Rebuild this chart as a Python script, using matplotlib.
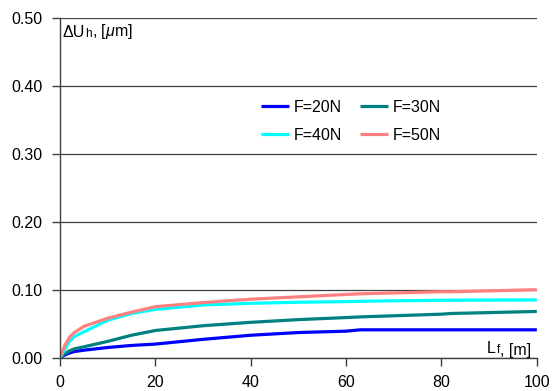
import matplotlib
matplotlib.use("Agg")
import matplotlib.pyplot as plt

plt.rcParams['font.family'] = ['Liberation Sans', 'DejaVu Sans']
plt.rcParams['mathtext.fontset'] = 'custom'
plt.rcParams['mathtext.rm'] = 'Liberation Sans'
plt.rcParams['mathtext.it'] = 'Liberation Sans:italic'

x = [0, 1, 2, 3, 5, 10, 15, 20, 30, 40, 50, 60, 63, 80, 82, 100]
f20 = [0, 0.004, 0.007, 0.009, 0.011, 0.015, 0.018, 0.020, 0.027, 0.033, 0.037, 0.039, 0.041, 0.041, 0.041, 0.041]
f30 = [0, 0.006, 0.010, 0.013, 0.016, 0.024, 0.033, 0.040, 0.047, 0.052, 0.056, 0.059, 0.060, 0.064, 0.065, 0.068]
f40 = [0, 0.012, 0.024, 0.031, 0.038, 0.055, 0.065, 0.071, 0.0775, 0.080, 0.0815, 0.0825, 0.083, 0.0845, 0.0845, 0.085]
f50 = [0, 0.018, 0.030, 0.037, 0.046, 0.058, 0.067, 0.075, 0.081, 0.086, 0.0895, 0.093, 0.094, 0.097, 0.097, 0.100]

labels = ["F=20N", "F=30N", "F=40N", "F=50N"]
colors = ["#0000FF", "#008080", "#00FFFF", "#FF8080"]
series = [f20, f30, f40, f50]

yticks = [0.0, 0.1, 0.2, 0.3, 0.4, 0.5]
xticks = [0, 20, 40, 60, 80, 100]

fig = plt.figure(figsize=(5.54, 3.91), dpi=100)
ax = fig.add_axes([0.1083, 0.0852, 0.8607, 0.8695])

lines = []
for s, c, l in zip(series, colors, labels):
    ln, = ax.plot(x, s, color=c, lw=2.3, label=l, solid_capstyle='butt')
    lines.append(ln)

ax.set_xlim(0, 100)
ax.set_ylim(0, 0.5)
ax.set_xticks(xticks)
ax.set_yticks(yticks)
ax.set_yticklabels([f"{v:.2f}" for v in yticks])
ax.tick_params(labelsize=11.5, direction='out', length=6, color='#404040', width=1)
ax.tick_params(axis='y', pad=6.5)
ax.tick_params(axis='x', pad=6.5)
ax.grid(axis='y', color='#404040', lw=0.9)
ax.set_axisbelow(True)
for sp in ['top', 'right']:
    ax.spines[sp].set_visible(False)
for sp in ['left', 'bottom']:
    ax.spines[sp].set_color('#404040')
    ax.spines[sp].set_linewidth(1)

# y-axis caption inside the plot: "ΔU" + small "h" + ", [μm]"
t1 = ax.text(0.006, 0.944, "ΔU", transform=ax.transAxes, fontsize=11.5,
             ha='left', va='baseline')
t2 = ax.annotate("h", xy=(1, 0), xycoords=t1, fontsize=8.5, ha='left', va='bottom',
                 xytext=(0.2, 0), textcoords='offset points')
t3 = ax.annotate(r", [$\mathit{\mu}$m]", xy=(1, 0), xycoords=t2, fontsize=11.5,
                 ha='left', va='bottom', xytext=(0.2, -1), textcoords='offset points')

# x-axis caption: "L" + small "f" + ", [m]"
u1 = ax.text(0.896, 0.013, "L", transform=ax.transAxes, fontsize=11.5,
             ha='left', va='baseline')
u2 = ax.annotate("f", xy=(1, 0), xycoords=u1, fontsize=8.5, ha='left', va='bottom',
                 xytext=(0.2, 0), textcoords='offset points')
u3 = ax.annotate(", [m]", xy=(1, 0), xycoords=u2, fontsize=11.5, ha='left',
                 va='bottom', xytext=(0.2, -1), textcoords='offset points')

order = [0, 2, 1, 3]
ax.legend([lines[i] for i in order], [labels[i] for i in order],
          loc='center left', bbox_to_anchor=(0.4217, 0.695), ncol=2, frameon=False,
          fontsize=11.5, handlelength=1.75, handletextpad=0.3, columnspacing=1.15,
          labelspacing=0.8, borderaxespad=0, borderpad=0)

fig.savefig("out.png", dpi=100)
